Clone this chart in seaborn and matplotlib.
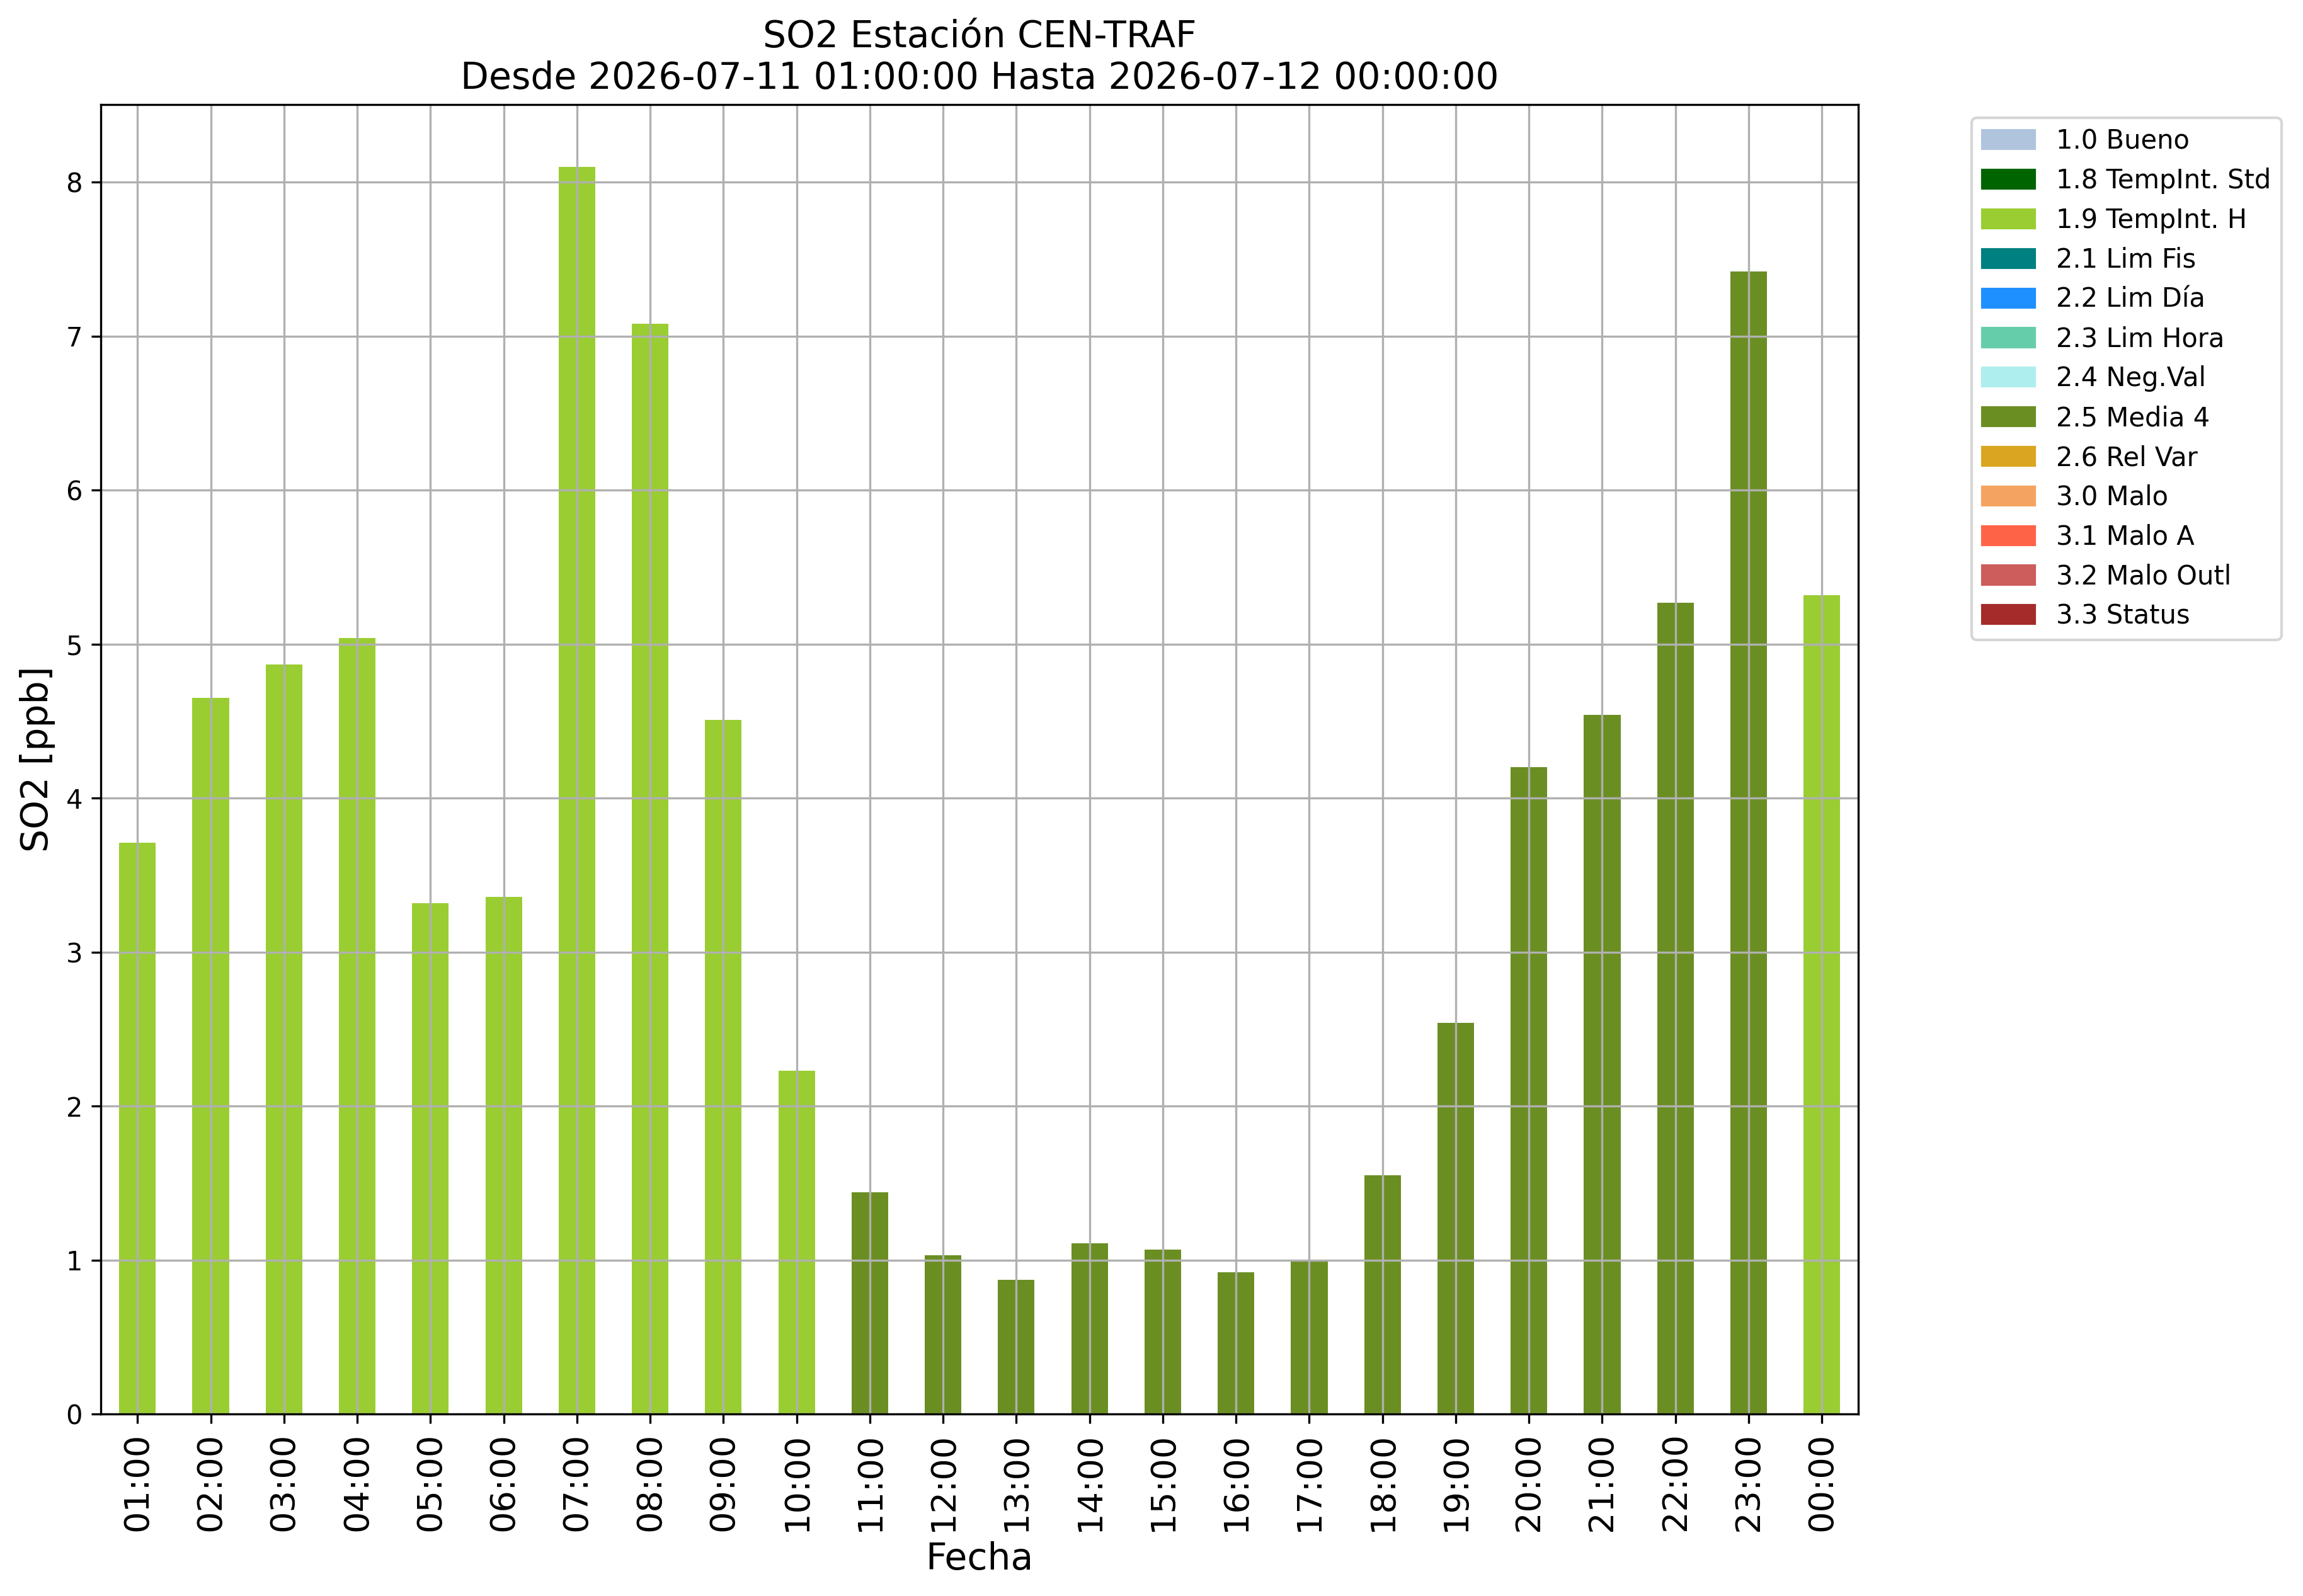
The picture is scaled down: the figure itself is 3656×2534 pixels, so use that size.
import pandas as pd
import matplotlib
matplotlib.use("Agg")
import matplotlib.pyplot as plt
import matplotlib.patches as mpatches
import seaborn as sns

# hourly SO2 values
horas = ["01:00", "02:00", "03:00", "04:00", "05:00", "06:00", "07:00", "08:00",
         "09:00", "10:00", "11:00", "12:00", "13:00", "14:00", "15:00", "16:00",
         "17:00", "18:00", "19:00", "20:00", "21:00", "22:00", "23:00", "00:00"]
valores = [3.71, 4.65, 4.87, 5.04, 3.32, 3.36, 8.10, 7.08,
           4.51, 2.23, 1.44, 1.03, 0.87, 1.11, 1.07, 0.92,
           1.00, 1.55, 2.54, 4.20, 4.54, 5.27, 7.42, 5.32]
flags = ["1.9 TempInt. H"] * 10 + ["2.5 Media 4"] * 13 + ["1.9 TempInt. H"]

# quality flag categories and their colours
etiquetas = ["1.0 Bueno", "1.8 TempInt. Std", "1.9 TempInt. H", "2.1 Lim Fis",
             "2.2 Lim Día", "2.3 Lim Hora", "2.4 Neg.Val", "2.5 Media 4",
             "2.6 Rel Var", "3.0 Malo", "3.1 Malo A", "3.2 Malo Outl", "3.3 Status"]
colores = ["lightsteelblue", "darkgreen", "yellowgreen", "teal",
           "dodgerblue", "mediumaquamarine", "paleturquoise", "olivedrab",
           "goldenrod", "sandybrown", "tomato", "indianred", "brown"]


def plot_so2(df):
    fig = plt.figure(figsize=(3656 / 300, 2534 / 300), dpi=300)
    ax = fig.add_axes([0.0438, 0.114, 0.807 - 0.0438, 0.9345 - 0.114])

    paleta = dict(zip(etiquetas, colores))
    sns.barplot(data=df, x="Fecha", y="SO2", hue="flag", order=horas,
                hue_order=etiquetas, palette=paleta, dodge=False, width=0.5,
                saturation=1, legend=False, ax=ax)

    ax.set_ylim(0, 8.505)
    ax.set_xlim(-0.5, len(horas) - 0.5)
    ax.grid(True)
    ax.set_axisbelow("line")
    ax.tick_params(axis="x", labelrotation=90, labelsize=13)
    ax.tick_params(axis="y", labelsize=10)
    ax.set_xlabel("Fecha", fontsize=14)
    ax.set_ylabel("SO2 [ppb]", fontsize=14)
    ax.set_title("SO2 Estación CEN-TRAF\n"
                 "Desde 2026-07-11 01:00:00 Hasta 2026-07-12 00:00:00",
                 fontsize=14)

    handles = [mpatches.Patch(color=c, label=l) for l, c in zip(etiquetas, colores)]
    ax.legend(handles=handles, bbox_to_anchor=(1.057, 1), loc="upper left",
              fontsize=10)

    fig.savefig("out.png", dpi=300)


if __name__ == "__main__":
    datos = pd.DataFrame({"Fecha": horas, "SO2": valores, "flag": flags})
    plot_so2(datos)
